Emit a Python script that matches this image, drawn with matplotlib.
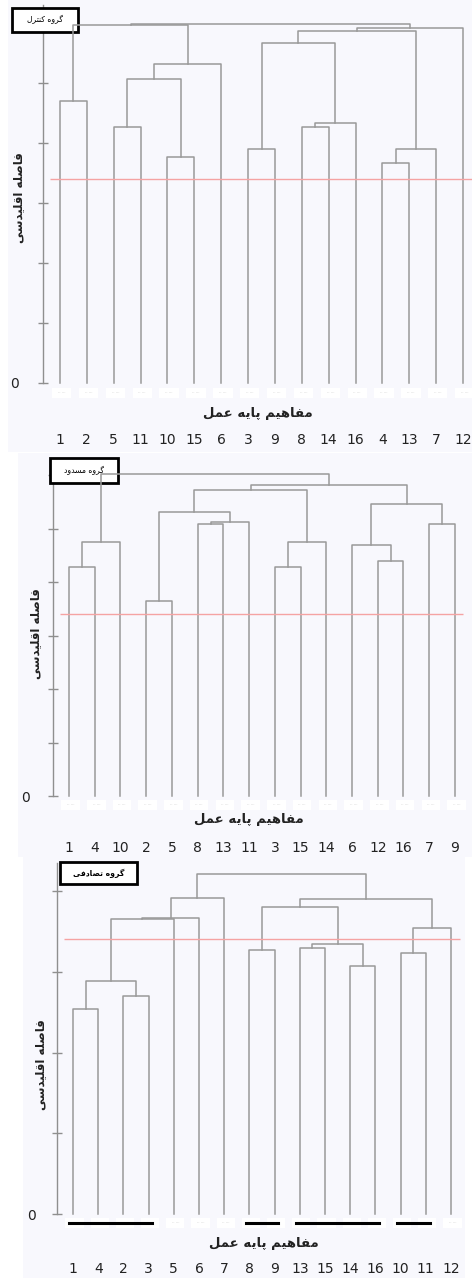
import matplotlib
matplotlib.use('Agg')
import matplotlib.pyplot as plt
from matplotlib.patches import Rectangle

plt.rcParams['font.family'] = ['DejaVu Sans']

W, H = 472, 1278
BG = '#f8f8fd'
LINE = '#999999'
AXC = '#8f8f8f'

# ---- data: leaf order, merges (left, right, height), cut level ----
control_leaves = [1, 2, 5, 11, 10, 15, 6, 3, 9, 8, 14, 16, 4, 13, 7, 12]
control_merges = [(1, 2, 4.70), (5, 11, 4.27), (10, 15, 3.77), ('m1', 'm2', 5.07),
                  ('m3', 6, 5.32), ('m0', 'm4', 5.96), (3, 9, 3.90), (8, 14, 4.27),
                  ('m7', 16, 4.34), ('m6', 'm8', 5.67), (4, 13, 3.67), ('m10', 7, 3.90),
                  ('m9', 'm11', 5.86), ('m12', 12, 5.92), ('m5', 'm13', 5.98)]
control_cut = 3.40

blocked_leaves = [1, 4, 10, 2, 5, 8, 13, 11, 3, 15, 14, 6, 12, 16, 7, 9]
blocked_merges = [(1, 4, 4.28), ('m0', 10, 4.75), (2, 5, 3.65), (8, 13, 5.09),
                  ('m3', 11, 5.13), ('m2', 'm4', 5.30), (3, 15, 4.28), ('m6', 14, 4.75),
                  ('m5', 'm7', 5.72), (12, 16, 4.40), (6, 'm9', 4.69), (7, 9, 5.09),
                  ('m10', 'm11', 5.46), ('m8', 'm12', 5.82), ('m1', 'm13', 6.02)]
blocked_cut = 3.40

random_leaves = [1, 4, 2, 3, 5, 6, 7, 8, 9, 13, 15, 14, 16, 10, 11, 12]
random_merges = [(1, 4, 2.54), (2, 3, 2.70), ('m0', 'm1', 2.89), ('m2', 5, 3.66),
                 ('m3', 6, 3.67), ('m4', 7, 3.92), (8, 9, 3.27), (13, 15, 3.29),
                 (14, 16, 3.07), ('m7', 'm8', 3.34), ('m6', 'm9', 3.80), (10, 11, 3.23),
                 ('m11', 12, 3.54), ('m10', 'm12', 3.90), ('m5', 'm13', 4.21)]
random_cut = 3.41
random_groups = [(1, 3), (8, 9), (13, 16), (10, 11)]

# ---- simple Persian shaping (presentation forms + visual order) ----
FORMS = {
    'ا': ('\ufe8d', '\ufe8e', None, None),
    'د': ('\ufea9', '\ufeaa', None, None),
    'ر': ('\ufead', '\ufeae', None, None),
    'و': ('\ufeed', '\ufeee', None, None),
    'ت': ('\ufe95', '\ufe96', '\ufe97', '\ufe98'),
    'س': ('\ufeb1', '\ufeb2', '\ufeb3', '\ufeb4'),
    'ص': ('\ufeb9', '\ufeba', '\ufebb', '\ufebc'),
    'ع': ('\ufec9', '\ufeca', '\ufecb', '\ufecc'),
    'ف': ('\ufed1', '\ufed2', '\ufed3', '\ufed4'),
    'ق': ('\ufed5', '\ufed6', '\ufed7', '\ufed8'),
    'ل': ('\ufedd', '\ufede', '\ufedf', '\ufee0'),
    'م': ('\ufee1', '\ufee2', '\ufee3', '\ufee4'),
    'ن': ('\ufee5', '\ufee6', '\ufee7', '\ufee8'),
    'ه': ('\ufee9', '\ufeea', '\ufeeb', '\ufeec'),
    'ی': ('\ufbfc', '\ufbfd', '\ufbfe', '\ufbff'),
    'پ': ('\ufb56', '\ufb57', '\ufb58', '\ufb59'),
    'ک': ('\ufb8e', '\ufb8f', '\ufb90', '\ufb91'),
    'گ': ('\ufb92', '\ufb93', '\ufb94', '\ufb95'),
}


def shape(text):
    def dual(c):
        return c in FORMS and FORMS[c][2] is not None
    out = []
    for i, c in enumerate(text):
        if c not in FORMS:
            out.append(c)
            continue
        prev = text[i - 1] if i > 0 else ''
        nxt = text[i + 1] if i + 1 < len(text) else ''
        p = dual(prev)
        n = dual(c) and nxt in FORMS
        iso, fin, ini, med = FORMS[c]
        out.append(med if p and n else fin if p else ini if n else iso)
    return ''.join(reversed(out))


def add_panel(fig, leaves, merges, cut, title, lay, groups=None):
    l, t, r, b = lay['bg']
    ax = fig.add_axes([l / W, 1 - b / H, (r - l) / W, (b - t) / H])
    x0, dx, y0, uy = lay['x0'], lay['dx'], lay['y0'], lay['uy']

    def xd(px):
        return (px - x0) / dx

    def yd(py):
        return (y0 - py) / uy

    ax.set_xlim(xd(l), xd(r))
    ax.set_ylim(yd(b), yd(t))
    ax.set_facecolor(BG)
    for s in ['top', 'right', 'bottom']:
        ax.spines[s].set_visible(False)
    ax.spines['left'].set_position(('data', xd(lay['axis'])))
    ax.spines['left'].set_bounds(0, yd(lay['axis_top']))
    ax.spines['left'].set_color(AXC)
    ax.spines['left'].set_linewidth(1.0)
    ax.set_yticks(range(lay['nticks'] + 1))
    ax.set_yticklabels(['0'] + [''] * lay['nticks'])
    ax.tick_params(axis='y', direction='inout', length=7, width=1, color=AXC,
                   pad=lay['pad'], labelsize=10, labelcolor='#222222')
    ax.set_xticks([])

    # dendrogram
    nx = {lab: i for i, lab in enumerate(leaves)}
    nh = {lab: 0.0 for lab in leaves}
    for k, (a, c, h) in enumerate(merges):
        xa, xc = nx[a], nx[c]
        ax.plot([xa, xa, xc, xc], [nh[a], h, h, nh[c]], color=LINE, lw=1.1, zorder=4)
        nx['m%d' % k] = (xa + xc) / 2
        nh['m%d' % k] = h

    ax.hlines(cut, -0.36, lay['cut_end'], color='#f5a3a3', lw=1.0, zorder=4.5)

    # faint leaf name placeholders and the leaf numbers
    ph = yd(lay['ph_y'])
    for i, lab in enumerate(leaves):
        ax.add_patch(Rectangle((i - 0.3, ph - 5 / uy), 0.72, 10 / uy, fc='white', ec='none', zorder=3))
        ax.text(i + 0.06, ph, '·· ···', fontsize=3, color='#aaaaaa', ha='center', va='center', zorder=3.5)
        ax.text(i, yd(lay['num_y']), str(lab), fontsize=10, color='#222222', ha='center', va='center')

    if groups:
        for g0, g1 in groups:
            ax.plot([nx[g0] - 0.15, nx[g1] + 0.15], [yd(lay['grp_y'])] * 2, color='black', lw=2.2, zorder=5)

    ax.text(xd(lay['xlab'][0]), yd(lay['xlab'][1]), shape('مفاهیم پایه عمل'),
            fontsize=9.5, fontweight='bold', color='#222222', ha='center', va='center')
    ax.text(xd(lay['ylab'][0]), yd(lay['ylab'][1]), shape('فاصله اقلیدسی'), rotation=90,
            fontsize=8.5, fontweight='bold', color='#222222', ha='center', va='center')

    bl, bt, br, bb = lay['box']
    ax.add_patch(Rectangle((xd(bl), yd(bb)), (br - bl) / dx, (bb - bt) / uy,
                           fc='white', ec='black', lw=2.0, zorder=3))
    ax.text(xd((bl + br) / 2), yd((bt + bb) / 2), shape(title), fontsize=5.5,
            fontweight=lay.get('tw', 'normal'), ha='center', va='center', zorder=6)
    return ax


fig = plt.figure(figsize=(W / 100, H / 100), dpi=100, facecolor='white')

add_panel(fig, control_leaves, control_merges, control_cut, 'گروه کنترل',
          dict(bg=(8, 0, 472, 452), x0=60, dx=26.87, y0=383, uy=60, axis=43, axis_top=5,
               nticks=6, pad=14, cut_end=15.6, box=(12, 8, 78, 32), ph_y=393,
               num_y=440, xlab=(258, 413), ylab=(19, 198)))
add_panel(fig, blocked_leaves, blocked_merges, blocked_cut, 'گروه مسدود',
          dict(bg=(18, 453, 472, 857), x0=69, dx=25.73, y0=796, uy=53.5, axis=53, axis_top=473,
               nticks=6, pad=13, cut_end=15.32, box=(50, 458, 118, 483), ph_y=805,
               num_y=848, xlab=(249, 820), ylab=(36, 634)))
add_panel(fig, random_leaves, random_merges, random_cut, 'گروه تصادفی',
          dict(bg=(23, 857, 465, 1278), x0=73, dx=25.2, y0=1214, uy=80.7, axis=57, axis_top=863,
               nticks=4, pad=12, cut_end=15.36, box=(60, 862, 137, 884), ph_y=1223,
               num_y=1269, xlab=(264, 1243), ylab=(41, 1065), grp_y=1222.5, tw='bold'),
          groups=random_groups)

fig.savefig('out.png', dpi=100, facecolor='white')
